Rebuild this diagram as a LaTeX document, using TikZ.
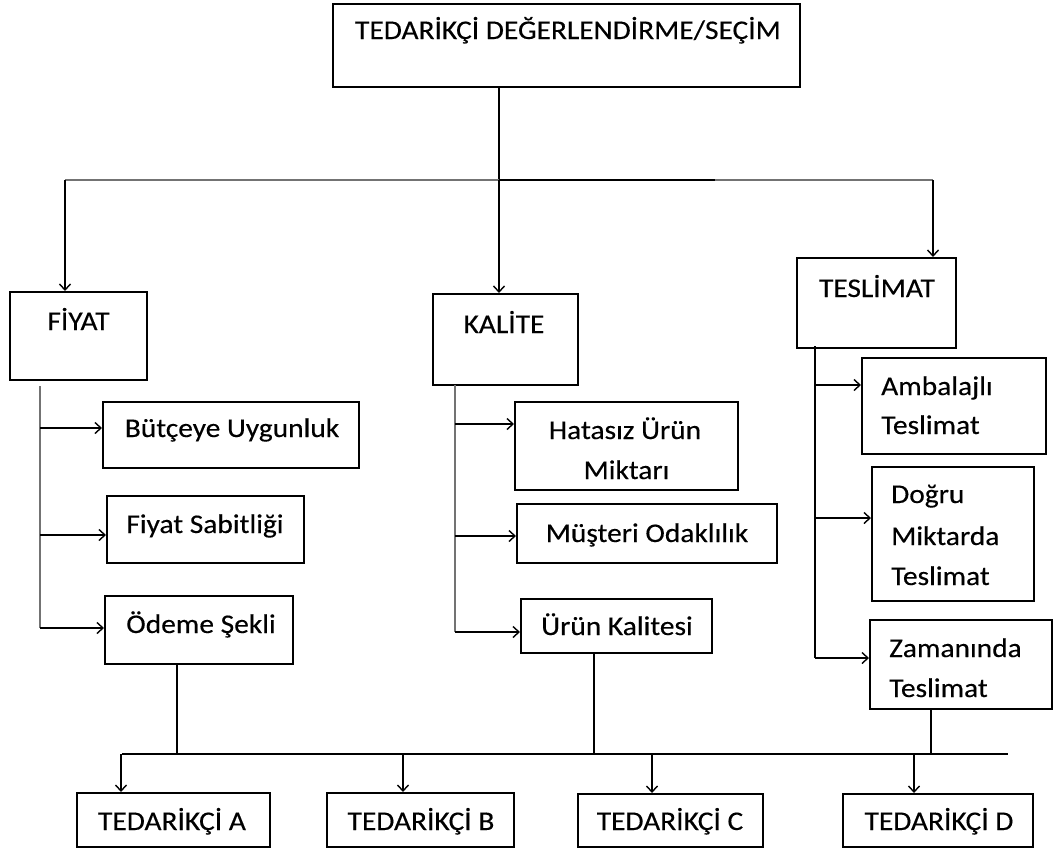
\documentclass[tikz,border=0pt]{standalone}
\usepackage{fontspec}
\setmainfont{Carlito}[FakeStretch=1.09, FakeBold=0.3]
\usetikzlibrary{arrows.meta}

\tikzset{
  box/.style={draw=black, line width=2pt, inner sep=0pt, rectangle},
  lbl/.style={inner sep=0pt, font=\fontsize{27}{40}\selectfont, text=black},
  wire/.style={draw=black, line width=1.5pt},
  spine/.style={draw=black!55, line width=2pt},
  arr/.style={wire, -{Straight Barb[length=6pt,width=11pt,line width=1.4pt]}},
}

\begin{document}
\begin{tikzpicture}[x=1pt,y=-1pt]
\useasboundingbox (0,0) rectangle (1054,852);

% ---- boxes ----
\node[box, minimum width=467pt, minimum height=83pt] (top)      at (566.5,45.5) {};
\node[box, minimum width=137pt, minimum height=88pt] (fiyat)    at (78.5,336) {};
\node[box, minimum width=145pt, minimum height=91pt] (kalite)   at (505.5,339.5) {};
\node[box, minimum width=159pt, minimum height=90pt] (teslimat) at (876.5,303) {};

\node[box, minimum width=256pt, minimum height=66pt] (butce)  at (231,435) {};
\node[box, minimum width=197pt, minimum height=67pt] (sabit)  at (205.5,529.5) {};
\node[box, minimum width=188pt, minimum height=68pt] (odeme)  at (199,630) {};

\node[box, minimum width=223pt, minimum height=88pt] (hatasiz) at (626.5,446) {};
\node[box, minimum width=260pt, minimum height=59pt] (musteri) at (647,533.5) {};
\node[box, minimum width=191pt, minimum height=54pt] (urun)    at (616.5,626) {};

\node[box, minimum width=184pt, minimum height=96pt]  (ambalaj) at (954,406) {};
\node[box, minimum width=162pt, minimum height=134pt] (dogru)   at (953,534) {};
\node[box, minimum width=182pt, minimum height=89pt]  (zaman)   at (961,664.5) {};

\node[box, minimum width=193pt, minimum height=54pt] (tA) at (173.5,820) {};
\node[box, minimum width=187pt, minimum height=54pt] (tB) at (420.5,820) {};
\node[box, minimum width=185pt, minimum height=53pt] (tC) at (670.5,820.5) {};
\node[box, minimum width=190pt, minimum height=53pt] (tD) at (938,820.5) {};

% ---- texts ----
\node[lbl, anchor=base] (topT) at (568,39) {TEDARİKÇİ DEĞERLENDİRME/SEÇİM};
\node[lbl, anchor=base] (fiyatT) at (78.5,330) {FİYAT};
\node[lbl, anchor=base] (kaliteT) at (504,333) {KALİTE};
\node[lbl, anchor=base] (teslimatT) at (877,297) {TESLİMAT};

\node[lbl, anchor=base] (butceT) at (232,437) {Bütçeye Uygunluk};
\node[lbl, anchor=base] (sabitT) at (205,533) {Fiyat Sabitliği};
\node[lbl, anchor=base] (odemeT) at (201,633) {Ödeme Şekli};

\node[lbl, anchor=base] (hatasizT1) at (625,439) {Hatasız Ürün};
\node[lbl, anchor=base] (hatasizT2) at (626.5,479) {Miktarı};
\node[lbl, anchor=base] (musteriT) at (647,542) {Müşteri Odaklılık};
\node[lbl, anchor=base] (urunT) at (617,635) {Ürün Kalitesi};

\node[lbl, anchor=base west] (ambalajT1) at (881,395) {Ambalajlı};
\node[lbl, anchor=base west] (ambalajT2) at (881,434) {Teslimat};
\node[lbl, anchor=base west] (dogruT1) at (891,503) {Doğru};
\node[lbl, anchor=base west] (dogruT2) at (891,545) {Miktarda};
\node[lbl, anchor=base west] (dogruT3) at (891,585) {Teslimat};
\node[lbl, anchor=base west] (zamanT1) at (889,657) {Zamanında};
\node[lbl, anchor=base west] (zamanT2) at (889,697) {Teslimat};

\node[lbl, anchor=base] (tAT) at (172,830) {TEDARİKÇİ A};
\node[lbl, anchor=base] (tBT) at (421,830) {TEDARİKÇİ B};
\node[lbl, anchor=base] (tCT) at (670,830) {TEDARİKÇİ C};
\node[lbl, anchor=base] (tDT) at (939,830) {TEDARİKÇİ D};

% ---- upper distribution ----
\coordinate (hub) at (499,180);
\coordinate (busL) at (65,180);
\coordinate (busR) at (933,180);
\coordinate (busM) at (715,180);
\draw[wire] (top.south -| hub) -- (hub);
\draw[spine] (busL) -- (busR);
\draw[wire] (hub) -- (busM);
\draw[arr] (hub) -- (hub |- kalite.north);
\draw[arr] (busL) -- (busL |- fiyat.north);
\draw[arr] (busR) -- (busR |- teslimat.north);

% ---- FİYAT branch ----
\coordinate (fS) at (40,386);
\coordinate (f1) at (40,428);
\coordinate (f2) at (40,535);
\coordinate (f3) at (40,628);
\draw[spine] (fS) -- (f3);
\draw[arr] (f1) -- (f1 -| butce.west);
\draw[arr] (f2) -- (f2 -| sabit.west);
\draw[arr] (f3) -- (f3 -| odeme.west);

% ---- KALİTE branch ----
\coordinate (kS) at (455,385);
\coordinate (k1) at (455,424);
\coordinate (k2) at (455,536);
\coordinate (k3) at (455,632);
\draw[spine] (kS) -- (k3);
\draw[arr] (k1) -- (k1 -| hatasiz.west);
\draw[arr] (k2) -- (k2 -| musteri.west);
\draw[arr] (k3) -- (k3 -| urun.west);

% ---- TESLİMAT branch ----
\coordinate (tS) at (815,346);
\coordinate (t1) at (815,385);
\coordinate (t2) at (815,518);
\coordinate (t3) at (815,658);
\draw[wire] (tS) -- (t3);
\draw[arr] (t1) -- (t1 -| ambalaj.west);
\draw[arr] (t2) -- (t2 -| dogru.west);
\draw[arr] (t3) -- (t3 -| zaman.west);

% ---- lower collection bus ----
\coordinate (lo1) at (177,754);
\coordinate (lo2) at (594,754);
\coordinate (lo3) at (931,754);
\coordinate (loL) at (122,754);
\coordinate (loR) at (1008,754);
\draw[wire] (odeme.south -| lo1) -- (lo1);
\draw[wire] (urun.south -| lo2) -- (lo2);
\draw[wire] (zaman.south -| lo3) -- (lo3);
\draw[wire] (loL) -- (loR);
\coordinate (dA) at (121,754);
\coordinate (dB) at (403,754);
\coordinate (dC) at (652,754);
\coordinate (dD) at (914,754);
\draw[arr] (dA) -- (dA |- tA.north);
\draw[arr] (dB) -- (dB |- tB.north);
\draw[arr] (dC) -- (dC |- tC.north);
\draw[arr] (dD) -- (dD |- tD.north);
\end{tikzpicture}
\end{document}
